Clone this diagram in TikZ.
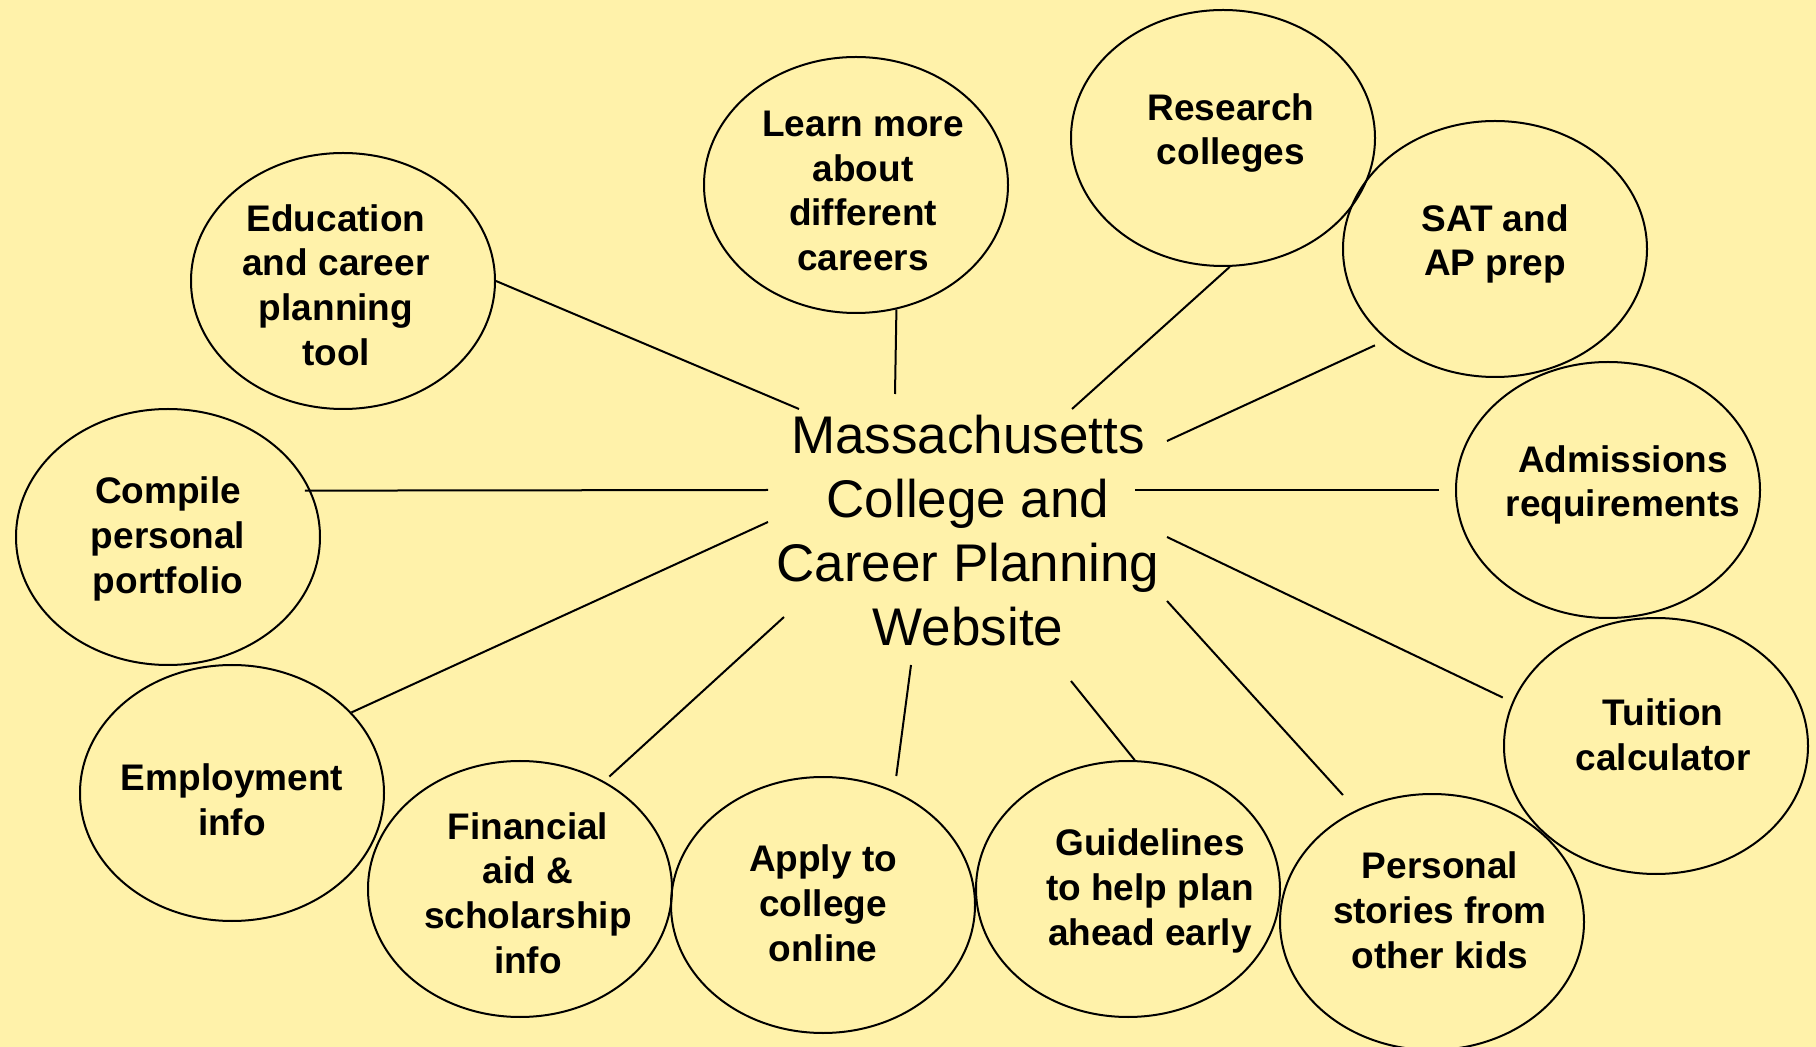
\documentclass[tikz,border=0pt]{standalone}
\usepackage{fontspec}
\setmainfont{Liberation Sans}
\usepackage{xcolor}
\usetikzlibrary{shapes.geometric}
\definecolor{paper}{HTML}{FFF2AA}

\begin{document}
\begin{tikzpicture}[x=0.5pt,y=-0.5pt,
  bub/.style={draw,line width=1pt,ellipse,minimum width=152pt,minimum height=128pt,inner sep=0pt},
  txt/.style={align=center,inner sep=0pt,font=\fontsize{18.5}{22.4}\selectfont\bfseries},
  hub/.style={align=center,inner sep=0pt,font=\fontsize{26.5}{32}\selectfont},
  link/.style={line width=1pt}]
  \fill[paper] (0,0) rectangle (1816,1047);
  \useasboundingbox (0,0) rectangle (1816,1047);

  % centre
  \node[hub] (web) at (968,531) {Massachusetts\\College and\\Career Planning\\Website};

  % bubbles, upper half
  \node[bub] (edu) at (343,281) {};
  \node[txt] (edu-t) at (336,285) {Education\\and career\\planning\\tool};
  \node[bub] (learn) at (856,185) {};
  \node[txt] (learn-t) at (863,191) {Learn more\\about\\different\\careers};
  \node[bub] (res) at (1223,138) {};
  \node[txt] (res-t) at (1231,133) {Research\\colleges};
  \node[bub] (sat) at (1495,249) {};
  \node[txt] (sat-t) at (1495,244) {SAT and\\AP prep};
  \node[bub] (adm) at (1608,490) {};
  \node[txt] (adm-t) at (1623,485) {Admissions\\requirements};
  \node[bub] (comp) at (168,537) {};
  \node[txt] (comp-t) at (168,539) {Compile\\personal\\portfolio};

  % bubbles, lower half
  \node[bub] (tui) at (1656,746) {};
  \node[txt] (tui-t) at (1663,735) {Tuition\\calculator};
  \node[bub] (pers) at (1432,922) {};
  \node[txt] (pers-t) at (1440,910) {Personal\\stories from\\other kids};
  \node[bub] (guide) at (1128,889) {};
  \node[txt] (guide-t) at (1150,891) {Guidelines\\to help plan\\ahead early};
  \node[bub] (apply) at (823,905) {};
  \node[txt] (apply-t) at (823,903) {Apply to\\college\\online};
  \node[bub] (fin) at (520,889) {};
  \node[txt] (fin-t) at (528,893) {Financial\\aid \&\\scholarship\\info};
  \node[bub] (emp) at (232,793) {};
  \node[txt] (emp-t) at (232,800) {Employment\\info};

  % spokes
  \coordinate (s-edu) at (799,409);
  \coordinate (s-learn) at (895,394);
  \coordinate (s-res) at (1072,409);
  \coordinate (s-sat) at (1167,441);
  \coordinate (s-adm) at (1135,490);
  \coordinate (s-tui) at (1167,537);
  \coordinate (s-pers) at (1167,601);
  \coordinate (s-guide) at (1071,681);
  \coordinate (s-apply) at (911,665);
  \coordinate (s-fin) at (784,617);
  \coordinate (s-emp) at (768,522);
  \coordinate (s-comp) at (768,490);

  \draw[link] (edu.east) -- (s-edu);
  \draw[link] (learn.-72) -- (s-learn);
  \draw[link] (res.-87) -- (s-res);
  \draw[link,shorten <=6.4pt] (sat.220) -- (s-sat);
  \draw[link,shorten <=8pt] (adm.west) -- (s-adm);
  \draw[link,shorten <=5.2pt] (tui.163) -- (s-tui);
  \draw[link,shorten <=10pt] (pers.124) -- (s-pers);
  \draw[link] (guide.87) -- (s-guide);
  \draw[link,shorten <=7.5pt] (apply.58) -- (s-apply);
  \draw[link,shorten <=3.5pt] (fin.52) -- (s-fin);
  \draw[link] (emp.34) -- (s-emp);
  \draw[link,shorten <=-3pt] (comp.18) -- (s-comp);
\end{tikzpicture}
\end{document}
